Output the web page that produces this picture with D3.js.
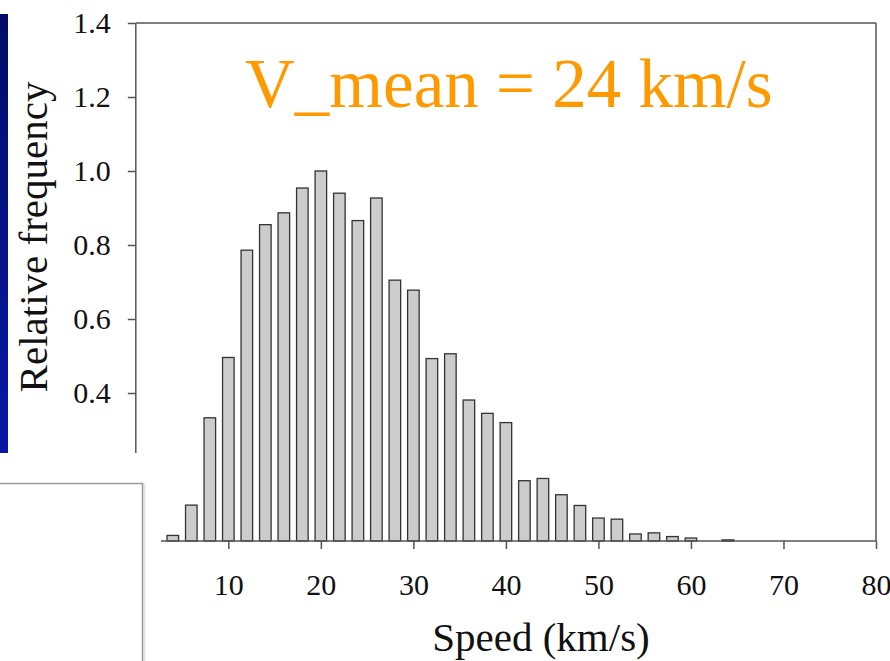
<!DOCTYPE html>
<html lang="en">
<head>
  <meta charset="UTF-8">
  <title>Speed distribution</title>
  <script src="https://d3js.org/d3.v7.min.js"></script>
  <style>
    body { margin: 0; background: #fff; }
    svg { display: block; font-family: "Liberation Serif", "Times New Roman", serif; }
    .axis line { stroke: #555; stroke-width: 1.5; }
    .axis text { fill: #111; font-size: 30px; font-family: "Liberation Serif", "Times New Roman", serif; }
  </style>
</head>
<body>
  <div id="chart"></div>
  <script>
    // bin centres (km/s) and relative frequency
    const speeds = [4, 6, 8, 10, 12, 14, 16, 18, 20, 22, 24, 26, 28, 30, 32, 34, 36, 38, 40,
                    42, 44, 46, 48, 50, 52, 54, 56, 58, 60, 62, 64];
    const freq = [0.015, 0.097, 0.333, 0.496, 0.786, 0.855, 0.887, 0.954, 1.0, 0.940, 0.866,
                  0.927, 0.705, 0.678, 0.493, 0.506, 0.381, 0.345, 0.320, 0.163, 0.169,
                  0.125, 0.096, 0.062, 0.059, 0.019, 0.022, 0.012, 0.008, 0, 0.003];
    const yTicks = [0.4, 0.6, 0.8, 1.0, 1.2, 1.4];
    const xTicks = [10, 20, 30, 40, 50, 60, 70, 80];
    const title = "V_mean = 24 km/s";
    const xLabel = "Speed (km/s)";
    const yLabel = "Relative frequency";

    const W = 890, H = 661;
    const binW = 1.25;

    const x = d3.scaleLinear().domain([0, 80]).range([135.8, 876]);
    const y = d3.scaleLinear().domain([0, 1.4]).range([541, 23]);

    const svg = d3.select("#chart").append("svg")
      .attr("width", W)
      .attr("height", H);

    // blue strip on the left edge
    const grad = svg.append("defs").append("linearGradient")
      .attr("id", "strip").attr("x1", 0).attr("y1", 0).attr("x2", 0).attr("y2", 1);
    grad.append("stop").attr("offset", "0%").attr("stop-color", "#000c66");
    grad.append("stop").attr("offset", "100%").attr("stop-color", "#0818a6");
    svg.append("rect")
      .attr("x", 0).attr("y", 14).attr("width", 8).attr("height", 439)
      .attr("fill", "url(#strip)");

    // bars
    const data = speeds.map((s, i) => ({ s, v: freq[i] })).filter(d => d.v > 0);
    svg.append("g").selectAll("rect")
      .data(data)
      .enter()
      .append("rect")
      .attr("x", d => x(d.s - binW / 2))
      .attr("width", d => x(d.s + binW / 2) - x(d.s - binW / 2))
      .attr("y", d => y(d.v))
      .attr("height", d => y(0) - y(d.v))
      .attr("fill", "#cccccc")
      .attr("stroke", "#333")
      .attr("stroke-width", 1.3);

    // y axis
    const yAxis = svg.append("g")
      .attr("class", "axis")
      .attr("transform", `translate(${x(0)},0)`)
      .call(d3.axisLeft(y).tickValues(yTicks).tickSize(8).tickPadding(17)
        .tickFormat(d3.format(".1f")));
    yAxis.select(".domain").remove();

    // x axis
    const xAxis = svg.append("g")
      .attr("class", "axis")
      .attr("transform", `translate(0,${y(0)})`)
      .call(d3.axisBottom(x).tickValues(xTicks).tickSize(8).tickPadding(24.5));
    xAxis.select(".domain").remove();

    // frame lines (left part is cut off in the original)
    const frame = svg.append("g").attr("stroke", "#555").attr("stroke-width", 1.5).attr("fill", "none");
    frame.append("line").attr("x1", x(0)).attr("x2", x(0)).attr("y1", y(1.4)).attr("y2", 453);
    frame.append("line").attr("x1", x(0)).attr("x2", x(80)).attr("y1", y(1.4)).attr("y2", y(1.4));
    frame.append("line").attr("x1", x(80)).attr("x2", x(80)).attr("y1", y(1.4)).attr("y2", y(0));
    frame.append("line").attr("x1", 161).attr("x2", x(80)).attr("y1", y(0)).attr("y2", y(0));

    // axis titles
    svg.append("text")
      .attr("transform", "translate(47,237) rotate(-90)")
      .attr("text-anchor", "middle")
      .attr("font-size", 41)
      .attr("fill", "#111")
      .text(yLabel);

    svg.append("text")
      .attr("x", 541)
      .attr("y", 651)
      .attr("text-anchor", "middle")
      .attr("font-size", 41)
      .attr("fill", "#111")
      .text(xLabel);

    // annotation
    svg.append("text")
      .attr("x", 245)
      .attr("y", 107)
      .attr("font-size", 69)
      .attr("fill", "#ff9900")
      .text(title);

    // white box overlapping the lower left corner
    svg.append("rect")
      .attr("x", -3).attr("y", 484.5).attr("width", 147.5).attr("height", 200)
      .attr("fill", "none").attr("stroke", "#e4e4e4").attr("stroke-width", 2);
    svg.append("rect")
      .attr("x", -3).attr("y", 483.5).attr("width", 145.5).attr("height", 200)
      .attr("fill", "#fff").attr("stroke", "#999").attr("stroke-width", 1.5);
  </script>
</body>
</html>
